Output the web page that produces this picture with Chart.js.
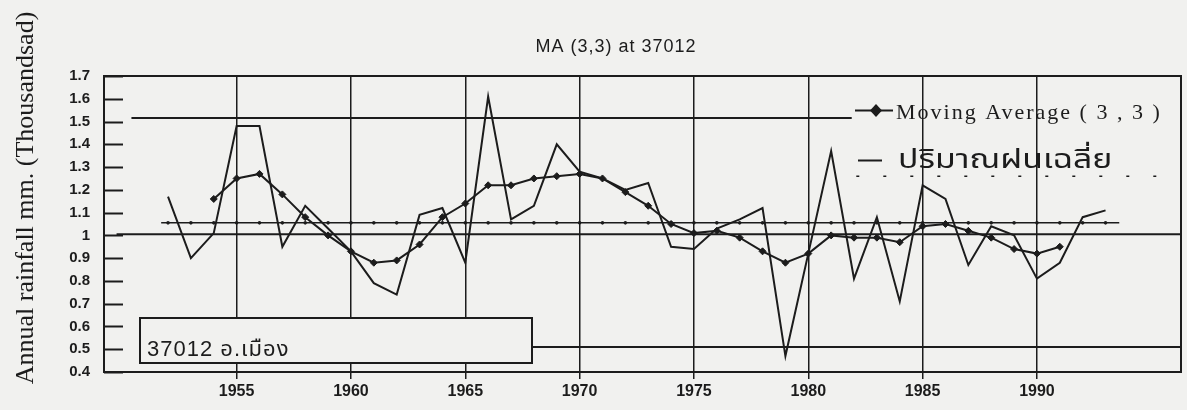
<!DOCTYPE html>
<html>
<head>
<meta charset="utf-8">
<script src="https://cdn.jsdelivr.net/npm/chart.js@4.4.1/dist/chart.umd.min.js"></script>
<style>
  html, body { margin: 0; padding: 0; background: #f1f1ef; }
  #wrap { width: 1187px; height: 410px; }
</style>
</head>
<body>
<div id="wrap"><canvas id="c" width="1187" height="410"></canvas></div>
<script>
// Annual rainfall at station 37012 (thousands of mm)
const years = [1952, 1953, 1954, 1955, 1956, 1957, 1958, 1959, 1960, 1961,
               1962, 1963, 1964, 1965, 1966, 1967, 1968, 1969, 1970, 1971,
               1972, 1973, 1974, 1975, 1976, 1977, 1978, 1979, 1980, 1981,
               1982, 1983, 1984, 1985, 1986, 1987, 1988, 1989, 1990, 1991,
               1992, 1993];
const annualRain = [1.17, 0.90, 1.01, 1.48, 1.48, 0.95, 1.13, 1.03, 0.93, 0.79,
                    0.74, 1.09, 1.12, 0.88, 1.61, 1.07, 1.13, 1.40, 1.28, 1.25,
                    1.20, 1.23, 0.95, 0.94, 1.03, 1.07, 1.12, 0.47, 0.92, 1.37,
                    0.81, 1.08, 0.71, 1.22, 1.16, 0.87, 1.04, 1.00, 0.81, 0.88,
                    1.08, 1.11];

// Moving average (3,3)
const maYears = [1954, 1955, 1956, 1957, 1958, 1959, 1960, 1961, 1962, 1963,
                 1964, 1965, 1966, 1967, 1968, 1969, 1970, 1971, 1972, 1973,
                 1974, 1975, 1976, 1977, 1978, 1979, 1980, 1981, 1982, 1983,
                 1984, 1985, 1986, 1987, 1988, 1989, 1990, 1991];
const maValues = [1.16, 1.25, 1.27, 1.18, 1.08, 1.00, 0.93, 0.88, 0.89, 0.96,
                  1.08, 1.14, 1.22, 1.22, 1.25, 1.26, 1.27, 1.25, 1.19, 1.13,
                  1.05, 1.01, 1.02, 0.99, 0.93, 0.88, 0.92, 1.00, 0.99, 0.99,
                  0.97, 1.04, 1.05, 1.02, 0.99, 0.94, 0.92, 0.95];

// Long-term mean and its span
const meanRain = 1.055;
const meanSpan = [1951.7, 1993.6];

// Horizontal reference rules: [from year, to year, level]
const upperRule = [1950.4, 1981.9, 1.515];
const unityRule = [1949.75, 1996.3, 1.005];
const lowerRule = [1967.9, 1996.3, 0.51];
const dottedRule = [1982.1, 1996.0, 1.26];

// Axes
const xTickYears = [1955, 1960, 1965, 1970, 1975, 1980, 1985, 1990];
const xRange = [1949.2, 1996.3];
const yRange = [0.4, 1.7];
const yStep = 0.1;

const paper = '#f1f1ef';
const ink = '#1c1c1c';

function ruleData(r) {
  return [{ x: r[0], y: r[2] }, { x: r[1], y: r[2] }];
}

const meanData = [{ x: meanSpan[0], y: meanRain }]
  .concat(years.map(yr => ({ x: yr, y: meanRain })))
  .concat([{ x: meanSpan[1], y: meanRain }]);

const ruleStyle = {
  borderColor: ink, borderWidth: 2, pointRadius: 0, tension: 0, fill: false
};

const decor = {
  id: 'decor',
  beforeDraw(chart) {
    const { ctx, width, height } = chart;
    ctx.save();
    ctx.fillStyle = paper;
    ctx.fillRect(0, 0, width, height);
    ctx.restore();
  },
  afterDatasetsDraw(chart) {
    const { ctx, chartArea: a, scales: { y } } = chart;
    ctx.save();
    ctx.strokeStyle = ink;
    ctx.fillStyle = ink;

    // plot frame
    ctx.lineWidth = 2;
    ctx.strokeRect(a.left, a.top, a.right - a.left, a.bottom - a.top);

    // inward y ticks
    y.ticks.forEach(t => {
      const py = Math.round(y.getPixelForValue(t.value)) + 0.5;
      ctx.beginPath();
      ctx.moveTo(a.left, py);
      ctx.lineTo(a.left + 19, py);
      ctx.stroke();
    });

    // station label box
    ctx.fillStyle = paper;
    ctx.fillRect(140, 318, 392, 45);
    ctx.strokeRect(140, 318, 392, 45);
    ctx.fillStyle = ink;
    ctx.font = '22px "Liberation Sans", Arial, "Noto Sans Thai", "Noto Sans", sans-serif';
    ctx.letterSpacing = '1px';
    ctx.textAlign = 'left';
    ctx.textBaseline = 'alphabetic';
    ctx.fillText('37012 อ.เมือง', 147, 356);

    // legend: moving average
    ctx.letterSpacing = '0px';
    ctx.beginPath();
    ctx.moveTo(855, 110.5);
    ctx.lineTo(893, 110.5);
    ctx.stroke();
    ctx.beginPath();
    ctx.moveTo(876, 104); ctx.lineTo(882, 110.5); ctx.lineTo(876, 117); ctx.lineTo(870, 110.5);
    ctx.closePath();
    ctx.fill();
    ctx.font = '22px "Liberation Serif", "Times New Roman", serif';
    ctx.letterSpacing = '2px';
    ctx.fillText('Moving Average ( 3 , 3 )', 896, 119);

    // legend: rainfall (wide lettering)
    ctx.letterSpacing = '0px';
    ctx.beginPath();
    ctx.moveTo(858, 160.5);
    ctx.lineTo(882, 160.5);
    ctx.stroke();
    ctx.save();
    ctx.translate(898, 168);
    ctx.scale(1.3, 1);
    ctx.font = '26px "Noto Sans Thai", "Noto Serif Thai", Garuda, Loma, "Liberation Serif", serif';
    ctx.fillText('ปริมาณฝนเฉลี่ย', 0, 0);
    ctx.restore();
    ctx.restore();

    // title
    ctx.save();
    ctx.fillStyle = ink;
    ctx.font = '18px "Liberation Sans", Arial, sans-serif';
    ctx.letterSpacing = '1px';
    ctx.textAlign = 'center';
    ctx.fillText('MA (3,3) at 37012', 616, 52);
    ctx.restore();

    // y-axis title
    ctx.save();
    ctx.fillStyle = ink;
    ctx.translate(33, 198);
    ctx.rotate(-Math.PI / 2);
    ctx.font = '26px "Liberation Serif", "Times New Roman", serif';
    ctx.textAlign = 'center';
    ctx.textBaseline = 'alphabetic';
    ctx.fillText('Annual rainfall mm. (Thousandsad)', 0, 0);
    ctx.restore();
  }
};

new Chart(document.getElementById('c'), {
  type: 'line',
  data: {
    datasets: [
      {
        label: 'ปริมาณฝน',
        data: years.map((yr, i) => ({ x: yr, y: annualRain[i] })),
        borderColor: ink, borderWidth: 2, pointRadius: 0, tension: 0, fill: false
      },
      {
        label: 'Moving Average (3,3)',
        data: maYears.map((yr, i) => ({ x: yr, y: maValues[i] })),
        borderColor: ink, borderWidth: 2, tension: 0, fill: false,
        pointStyle: 'rectRot', pointRadius: 3.5,
        pointBackgroundColor: ink, pointBorderColor: ink, pointBorderWidth: 1
      },
      {
        label: 'ปริมาณฝนเฉลี่ย',
        data: meanData,
        borderColor: ink, borderWidth: 1.5, tension: 0, fill: false,
        pointRadius: c => (Number.isInteger(c.raw.x) ? 1.8 : 0),
        pointBackgroundColor: ink, pointBorderWidth: 0
      },
      Object.assign({ label: 'upper', data: ruleData(upperRule) }, ruleStyle),
      Object.assign({ label: 'unity', data: ruleData(unityRule) }, ruleStyle),
      Object.assign({ label: 'lower', data: ruleData(lowerRule) }, ruleStyle),
      Object.assign({ label: 'dotted', data: ruleData(dottedRule) }, ruleStyle,
                    { borderWidth: 1.5, borderDash: [3, 24] })
    ]
  },
  options: {
    responsive: false,
    animation: false,
    devicePixelRatio: 1,
    layout: { padding: { left: 0, right: 6, top: 76, bottom: 0 } },
    plugins: { legend: { display: false }, tooltip: { enabled: false }, title: { display: false } },
    scales: {
      x: {
        type: 'linear',
        min: xRange[0], max: xRange[1],
        afterBuildTicks: s => { s.ticks = xTickYears.map(v => ({ value: v })); },
        afterFit: s => { s.height = 38; },
        ticks: {
          color: ink, padding: 3, maxRotation: 0, autoSkip: false,
          font: { family: '"Liberation Sans", Arial, sans-serif', size: 16, weight: 'bold' },
          callback: v => String(v)
        },
        grid: { color: ink, lineWidth: 1.5, drawOnChartArea: true, drawTicks: true, tickLength: 7 },
        border: { display: true, color: ink, width: 2 }
      },
      y: {
        type: 'linear',
        min: yRange[0], max: yRange[1],
        ticks: {
          stepSize: yStep, color: ink, padding: 14,
          font: { family: '"Liberation Sans", Arial, sans-serif', size: 15, weight: 'bold' },
          callback: v => String(Math.round(v * 10) / 10)
        },
        afterFit: s => { s.width = 104; },
        grid: { display: false, drawTicks: false },
        border: { display: true, color: ink, width: 2 }
      }
    }
  },
  plugins: [decor]
});
</script>
</body>
</html>
